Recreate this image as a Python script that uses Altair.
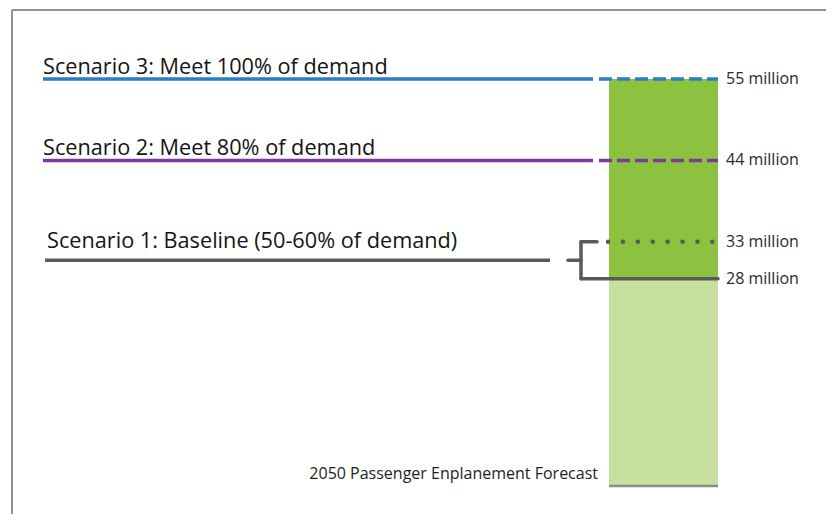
import altair as alt
import pandas as pd

# ---- data ----
scenario_labels = [
    "Scenario 3: Meet 100% of demand",
    "Scenario 2: Meet 80% of demand",
    "Scenario 1: Baseline (50-60% of demand)",
]
scenario_high = [55, 44, 33]
scenario_low = [55, 44, 28]
value_labels = ["55 million", "44 million", "33 million", "28 million"]
label_values = [55, 44, 33, 28]
forecast_label = "2050 Passenger Enplanement Forecast"
forecast_base = 0
scenario_colors = ["#2b7ec3", "#7b3a9c", "#5a5a5a"]

FONT = "Open Sans"
yscale = alt.Scale(domain=[-3.8, 64.6], nice=False, zero=False)


def Y(field):
    return alt.Y(f"{field}:Q", scale=yscale, axis=None)


def one(**kw):
    return pd.DataFrame({k: [v] for k, v in kw.items()})


layers = []

# frame
layers.append(alt.Chart(one(a=0)).mark_rule(color="#6e6e6e", strokeWidth=1.5).encode(
    x=alt.value(4), y=alt.value(2), y2=alt.value(506)))
layers.append(alt.Chart(one(a=0)).mark_rule(color="#6e6e6e", strokeWidth=1.5).encode(
    y=alt.value(2), x=alt.value(4), x2=alt.value(818)))

# forecast bar
base_low = scenario_low[2]
layers.append(alt.Chart(one(lo=forecast_base, hi=base_low)).mark_rect(color="#c5e09e").encode(
    x=alt.value(601), x2=alt.value(710), y=Y("hi"), y2="lo:Q"))
layers.append(alt.Chart(one(lo=base_low, hi=scenario_high[0])).mark_rect(color="#8cc23f").encode(
    x=alt.value(601), x2=alt.value(710), y=Y("hi"), y2="lo:Q"))
layers.append(alt.Chart(one(v=forecast_base)).mark_rule(color="#8a8a8a", strokeWidth=2.5).encode(
    x=alt.value(601), x2=alt.value(710), y=Y("v")))
layers.append(alt.Chart(one(v=forecast_base, t=forecast_label)).mark_text(
    font=FONT, fontSize=16, color="#1e1e1e", align="right", baseline="alphabetic", dy=-7).encode(
    x=alt.value(590), y=Y("v"), text="t:N"))

# scenarios 3 and 2
for i in range(2):
    c = scenario_colors[i]
    d = one(v=scenario_high[i], t=scenario_labels[i])
    layers.append(alt.Chart(d).mark_rule(color=c, strokeWidth=3.5).encode(
        x=alt.value(35), x2=alt.value(585), y=Y("v")))
    layers.append(alt.Chart(d).mark_rule(color=c, strokeWidth=3.5, strokeDash=[13, 5]).encode(
        x=alt.value(591), x2=alt.value(710), y=Y("v")))
    layers.append(alt.Chart(d).mark_text(
        font=FONT, fontSize=21.7, color="#141414", align="left", baseline="alphabetic", dy=-5).encode(
        x=alt.value(35), y=Y("v"), text="t:N"))

# scenario 1 with brace
c = scenario_colors[2]
hi, lo = scenario_high[2], scenario_low[2]
mid = (hi + lo) / 2
dm = one(v=mid, t=scenario_labels[2])
layers.append(alt.Chart(dm).mark_rule(color=c, strokeWidth=3.5).encode(
    x=alt.value(37), x2=alt.value(542), y=Y("v")))
layers.append(alt.Chart(dm).mark_text(
    font=FONT, fontSize=21.7, color="#141414", align="left", baseline="alphabetic", dy=-12).encode(
    x=alt.value(39), y=Y("v"), text="t:N"))
layers.append(alt.Chart(dm).mark_rule(color=c, strokeWidth=3.5, strokeCap="round").encode(
    x=alt.value(560), x2=alt.value(573), y=Y("v")))
layers.append(alt.Chart(one(lo=lo, hi=hi)).mark_rule(color=c, strokeWidth=3.5, strokeCap="round").encode(
    x=alt.value(573), y=Y("hi"), y2="lo:Q"))
layers.append(alt.Chart(one(v=hi)).mark_rule(color=c, strokeWidth=3.5, strokeCap="round").encode(
    x=alt.value(573), x2=alt.value(589), y=Y("v")))
layers.append(alt.Chart(one(v=hi)).mark_rule(color=c, strokeWidth=4.5, strokeCap="round",
                                              strokeDash=[0.1, 14.8]).encode(
    x=alt.value(600), x2=alt.value(706), y=Y("v")))
layers.append(alt.Chart(one(v=lo)).mark_rule(color=c, strokeWidth=3.5, strokeCap="round").encode(
    x=alt.value(573), x2=alt.value(710), y=Y("v")))

# value labels
lab = pd.DataFrame({"v": label_values, "t": value_labels})
layers.append(alt.Chart(lab).mark_text(
    font=FONT, fontSize=16, color="#2a2a2a", align="left", baseline="middle").encode(
    x=alt.value(718), y=Y("v"), text="t:N"))

chart = alt.layer(*layers).properties(
    width=818, height=506, padding=0, autosize=alt.AutoSizeParams(type="none"),
    background="white",
).configure_view(stroke=None)

chart.save("out.html", embed_options={"renderer": "svg", "actions": False})
